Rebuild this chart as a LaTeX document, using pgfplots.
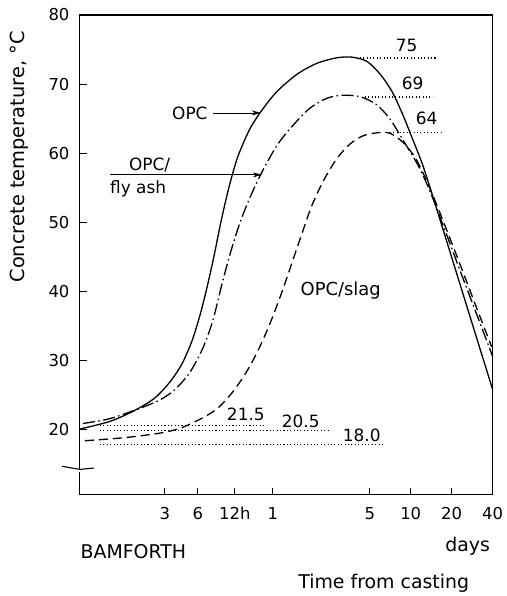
\documentclass[border=0pt]{standalone}
\usepackage{fontspec}
\setmainfont{DejaVu Sans}
\usepackage{pgfplots}
\pgfplotsset{compat=1.18}
\usetikzlibrary{arrows.meta}
\newcommand{\fs}[1]{\fontsize{#1}{#1}\selectfont}
\begin{document}
\begin{tikzpicture}
\path (-80bp,-101bp) rectangle (427bp,495bp);
\begin{axis}[
  at={(0,0)}, anchor=south west,
  scale only axis, width=413bp, height=480bp,
  xmin=80, xmax=493, ymin=10.6, ymax=80,
  axis line style={line width=1.1bp},
  xtick={165,198,235,273,370,411,452,493},
  xticklabels={3,6,12h,1,5,10,20,40},
  ytick={20,30,40,50,60,70,80},
  yticklabels={20,30,40,50,60,70,80},
  tick pos=left, tick align=inside, major tick length=7bp,
  tick style={line width=1bp, black},
  ticklabel style={font=\fs{16.5}},
  xticklabel style={text height=12bp, yshift=-9bp},
  yticklabel style={xshift=-7bp},
  clip=false,
]
% OPC
\addplot[line width=1.3bp, smooth, tension=0.5] coordinates {
(80,20.1) (110,21.2) (135,22.8) (155,24.6) (170,26.9) (182,29.5) (192,32.8)
(200,36.5) (207,40.5) (214,45.0) (221,50.0) (229,55.0) (238,59.5) (250,63.5)
(262,66.2) (277,68.9) (297,71.4) (317,73.0) (337,73.8) (352,73.9) (367,73.3)
(380,71.5) (392,69.0) (403,65.6) (413,62.0) (423,58.3) (433,53.8) (445,48.2)
(460,41.2) (475,34.2) (493,25.8)};
% OPC/fly ash
\addplot[line width=1.3bp, smooth, tension=0.5, dash pattern=on 12bp off 3.5bp on 1.5bp off 3.5bp] coordinates {
(83,20.9) (110,21.6) (140,23.1) (160,24.3) (175,25.8) (190,28.3) (203,31.8)
(213,35.8) (222,41.0) (231,45.8) (241,50.3) (252,54.2) (264,57.8) (278,61.3)
(293,64.0) (310,66.5) (328,68.0) (345,68.4) (362,68.1) (377,67.0) (390,65.0)
(400,62.7) (410,60.3) (420,57.8) (432,53.9) (447,48.2) (462,42.4) (477,36.7)
(493,30.6)};
% OPC/slag
\addplot[line width=1.3bp, smooth, tension=0.5, dash pattern=on 9bp off 5bp] coordinates {
(85,18.4) (125,18.85) (160,19.5) (180,20.2) (200,21.5) (217,23.0) (232,25.3)
(246,28.2) (258,31.4) (268,34.6) (277,37.9) (285,41.1) (293,44.5) (302,48.3)
(312,52.4) (324,56.1) (337,59.2) (350,61.3) (363,62.5) (377,62.95) (390,62.9)
(403,61.6) (417,59.0) (432,54.3) (447,48.9) (462,43.3) (477,37.6) (492,32.0)};
% dotted reference lines
\addplot[line width=1.1bp, dash pattern=on 1.1bp off 2.3bp] coordinates {(360,73.78) (437,73.78)};
\addplot[line width=1.1bp, dash pattern=on 1.1bp off 2.3bp] coordinates {(365,68.14) (433,68.14)};
\addplot[line width=1.1bp, dash pattern=on 1.1bp off 2.3bp] coordinates {(390,62.94) (442,62.94)};
\addplot[line width=1.1bp, dash pattern=on 1.1bp off 2.3bp] coordinates {(100,20.58) (265,20.58)};
\addplot[line width=1.1bp, dash pattern=on 1.1bp off 2.3bp] coordinates {(100,19.86) (328,19.86)};
\addplot[line width=1.1bp, dash pattern=on 1.1bp off 2.3bp] coordinates {(100,17.83) (383,17.83)};
% axis break
\fill[white] (axis cs:76,13.85) rectangle (axis cs:84,14.95);
\draw[line width=1.1bp] (axis cs:62,14.70) -- (axis cs:80,14.25) -- (axis cs:94,14.45);
\draw[line width=1.1bp] (axis cs:80,14.95) -- (axis cs:80,14.25);
% value labels
\node[font=\fs{17}] at (axis cs:407,75.66) {75};
\node[font=\fs{17}] at (axis cs:413,70.17) {69};
\node[font=\fs{17}] at (axis cs:427,65.11) {64};
\node[font=\fs{17}] at (axis cs:246,22.17) {21.5};
\node[font=\fs{17}] at (axis cs:301,21.16) {20.5};
\node[font=\fs{17}] at (axis cs:362,19.13) {18.0};
% curve labels
\node[font=\fs{17}] at (axis cs:190,65.83) {OPC};
\draw[line width=0.8bp, -{Stealth[length=9bp,width=5bp]}] (axis cs:213,65.83) -- (axis cs:261,65.83);
\node[font=\fs{17}, anchor=west, inner sep=0pt] at (axis cs:129,58.31) {OPC/};
\node[font=\fs{17}, anchor=west, inner sep=0pt] at (axis cs:110,54.84) {fly ash};
\draw[line width=0.8bp, -{Stealth[length=9bp,width=5bp]}] (axis cs:110,56.87) -- (axis cs:262,56.87);
\node[font=\fs{18}] at (axis cs:341,40.10) {OPC/slag};
% outer texts
\node[font=\fs{19}] at (axis cs:133.5,2.36) {BAMFORTH};
\node[font=\fs{19}] at (axis cs:468,3.08) {days};
\node[font=\fs{19}] at (axis cs:384,-2.26) {Time from casting};
\node[font=\fs{19.5}, rotate=90] at (axis cs:19,59.47) {Concrete temperature, °C};
\end{axis}
\end{tikzpicture}
\end{document}
